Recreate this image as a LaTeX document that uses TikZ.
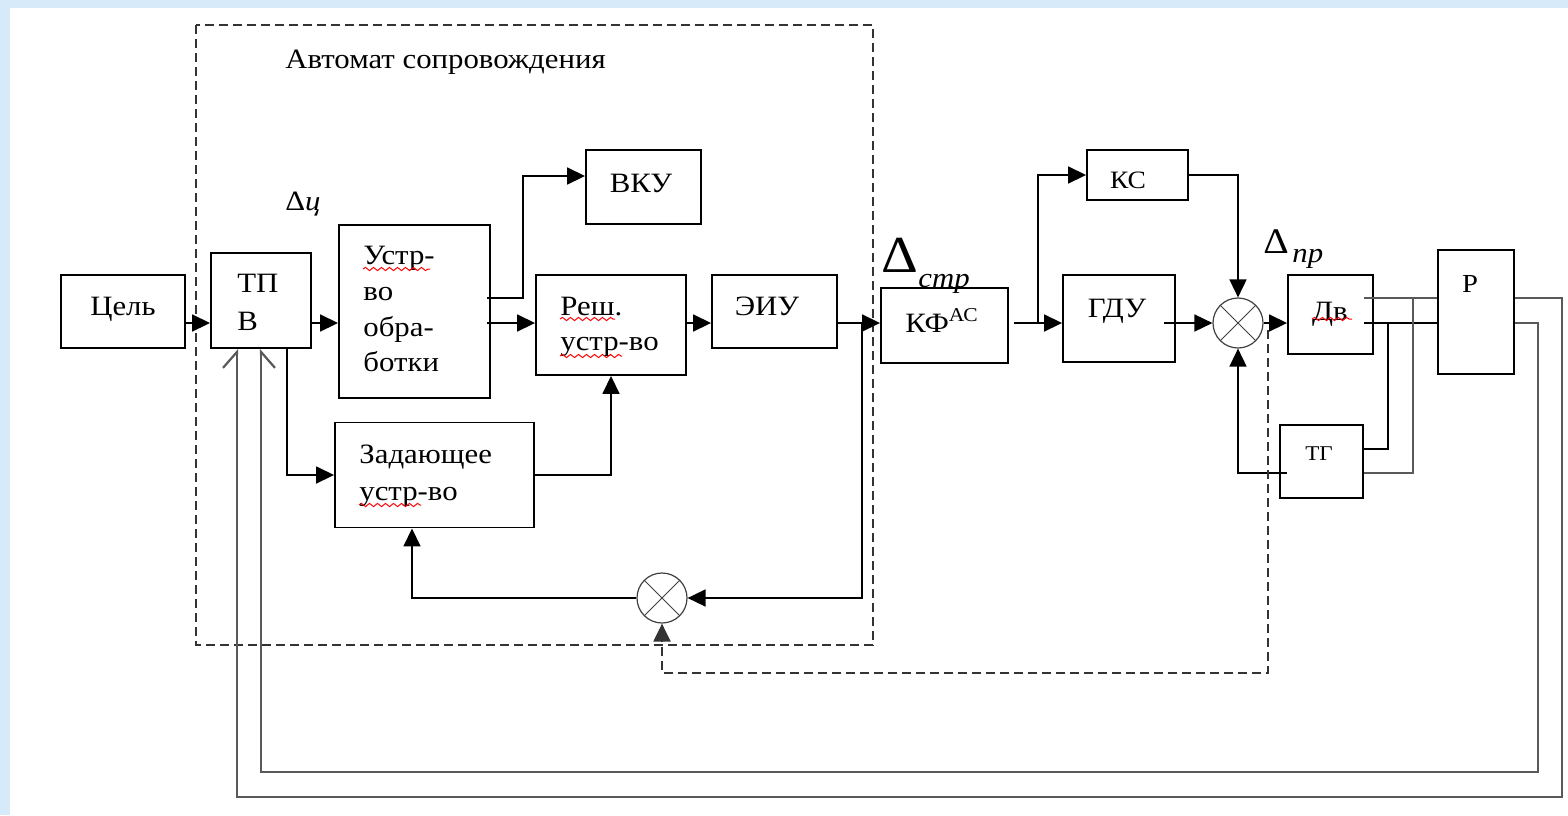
\documentclass[tikz,border=0pt]{standalone}
\usepackage{fontspec}
\setmainfont[FakeStretch=1.1]{Liberation Serif}
\usepackage{xcolor}
\usepackage{tikz}
\usetikzlibrary{arrows.meta, calc, decorations.pathmorphing}
\definecolor{frameblue}{RGB}{214,234,250}

\begin{document}
\begin{tikzpicture}[x=0.5pt, y=-0.5pt,
  blk/.style={draw, line width=0.95pt, inner sep=0pt, fill=white},
  txt/.style={font=\fontsize{14}{16}\selectfont, inner sep=0pt},
  arr/.style={line width=0.85pt, -{Triangle[length=9pt,width=8.5pt]}},
  ln/.style={line width=0.85pt},
  fb/.style={line width=1.1pt, draw=black!65},
  sum/.style={circle, draw=black!75, line width=0.6pt, fill=white, inner sep=0pt, minimum size=25pt,
    path picture={\draw[black!75, line width=0.5pt] (path picture bounding box.north west) -- (path picture bounding box.south east)
      (path picture bounding box.north east) -- (path picture bounding box.south west);}},
  dsh/.style={line width=1.1pt, draw=black!80, dash pattern=on 4.5pt off 2.5pt},
  wavy/.style={red, line width=0.5pt, decorate, decoration={snake, amplitude=0.8pt, segment length=4pt}}
]
\fill[frameblue] (0,0) rectangle (1568,815);
\fill[white] (10,8) rectangle (1568,815);
\useasboundingbox (0,0) rectangle (1568,815);

% tracking automaton frame
\draw[dsh] (196,25) rectangle (873,645);
\node[txt, anchor=base west] (title) at (285,68) {Автомат сопровождения};

% blocks
\node[blk, minimum width=62pt, minimum height=36.5pt] (cel) at (123,311.5) {};
\node[blk, minimum width=50pt, minimum height=47.5pt] (tpv) at (261,300.5) {};
\node[blk, minimum width=75.5pt, minimum height=86.5pt] (obr) at (414.5,311.5) {};
\node[blk, minimum width=57.5pt, minimum height=37pt] (vku) at (643.5,187) {};
\node[blk, minimum width=75pt, minimum height=50pt] (resh) at (611,325) {};
\node[blk, minimum width=62.5pt, minimum height=36.5pt] (eiu) at (774.5,311.5) {};
\node[blk, minimum width=99.5pt, minimum height=52.5pt] (zad) at (434.5,475) {};
\node[blk, minimum width=63.5pt, minimum height=37.5pt] (kf) at (944.5,325.5) {};
\node[blk, minimum width=50.5pt, minimum height=25pt] (ks) at (1137.5,175) {};
\node[blk, minimum width=56pt, minimum height=43.5pt] (gdu) at (1119,318.5) {};
\node[blk, minimum width=42.5pt, minimum height=39.5pt] (dv) at (1330.5,314.5) {};
\node[blk, minimum width=38pt, minimum height=62pt] (r) at (1476,312) {};
\node[blk, minimum width=41.5pt, minimum height=36.5pt] (tg) at (1321.5,461.5) {};
\node[sum] (sum1) at (1238,323) {};
\node[sum] (sum2) at (662,598) {};

% texts
\node[txt, anchor=base west] (tDc) at (285,210) {Δ\textit{ц}};
\node[txt, anchor=base] (tCel) at (123,315) {Цель};
\node[txt, anchor=base west] (tTp) at (237,292) {ТП};
\node[txt, anchor=base west] (tV) at (237,330) {В};
\node[txt, anchor=base west] (tObr1) at (363,264) {Устр-};
\node[txt, anchor=base west] (tObr2) at (363,300) {во};
\node[txt, anchor=base west] (tObr3) at (363,336) {обра-};
\node[txt, anchor=base west] (tObr4) at (363,371) {ботки};
\node[txt, anchor=base] (tVku) at (641,192) {ВКУ};
\node[txt, anchor=base west] (tResh1) at (560,315) {Реш.};
\node[txt, anchor=base west] (tResh2) at (560,350) {устр-во};
\node[txt, anchor=base] (tEiu) at (767,315) {ЭИУ};
\node[txt, anchor=base west] (tZad1) at (359,463) {Задающее};
\node[txt, anchor=base west] (tZad2) at (359,500) {устр-во};
\node[anchor=base west, inner sep=0pt, font=\fontsize{26}{28}\selectfont] (tDs) at (881,272) {Δ};
\node[txt, anchor=base west] (tStr) at (918,287) {\textit{стр}};
\node[txt, anchor=base west] (tKf) at (905,332) {КФ\textsuperscript{АС}};
\node[txt, anchor=base, font=\fontsize{12.5}{14}\selectfont] (tKs) at (1128,188) {КС};
\node[txt, anchor=base] (tGdu) at (1117,317) {ГДУ};
\node[anchor=base west, inner sep=0pt, font=\fontsize{18}{20}\selectfont] (tDp) at (1263,253) {Δ};
\node[txt, anchor=base west] (tPr) at (1292,262) {\textit{пр}};
\node[txt, anchor=base] (tDv) at (1330,320) {Дв};
\node[txt, anchor=base, font=\fontsize{13}{14}\selectfont] (tR) at (1470,292) {Р};
\node[txt, anchor=base, font=\fontsize{10.5}{12}\selectfont] (tTg) at (1319,460) {ТГ};

% spell-check marks
\draw[wavy] (363,269) -- (430,269);
\draw[wavy] (560,319) -- (615,319);
\draw[wavy] (560,356) -- (622,356);
\draw[wavy] (359,505) -- (421,505);
\draw[wavy] (1312,319) -- (1352,319);

% levels
\coordinate (yM) at (0,323);
\coordinate (yU) at (0,298);
\coordinate (yT) at (0,176);
\coordinate (yG1) at (0,449);
\coordinate (yG2) at (0,473);
\coordinate (yD) at (0,673);

% signal path
\draw[arr] (cel.east |- yM) -- (tpv.west |- yM);
\draw[arr] (tpv.east |- yM) -- (obr.west |- yM);
\draw[arr] ($(obr.east |- yM)+(-4,0)$) -- (resh.west |- yM);
\draw[arr] ($(obr.east |- yU)+(-4,0)$) -- ++(36,0) |- (vku.west |- yT);
\draw[arr] (resh.east |- yM) -- (eiu.west |- yM);
\draw[arr] (eiu.east |- yM) -- (kf.west |- yM);
\coordinate (eBr) at (862,323);
\draw[arr] (eBr) |- (sum2.east);
\coordinate (zX) at (412,0);
\draw[arr] (sum2.west) -| (zad.south -| zX);
\draw[arr] (zad.east) -| (resh.south);
\coordinate (tX) at (287,0);
\draw[arr] (tpv.south -| tX) |- (zad.west);

\draw[arr] ($(kf.east |- yM)+(5,0)$) -- (gdu.west |- yM);
\coordinate (kBr) at (1038,323);
\draw[arr] (kBr) |- (ks.west);
\draw[arr] (ks.east) -| (sum1.north);
\draw[arr] ($(gdu.east |- yM)+(-12,0)$) -- (sum1.west);
\draw[arr] (sum1.east) -- (dv.west |- yM);

% motor, tachogenerator, reducer
\coordinate (tA) at (1388,0);
\coordinate (tB) at (1413,0);
\draw[fb] ($(dv.east |- yU)+(-10,0)$) -- (r.west |- yU);
\draw[ln] ($(dv.east |- yM)+(-10,0)$) -- (r.west |- yM);
\draw[ln] (tg.east |- yG1) -| (tA |- yM);
\draw[fb] (tg.east |- yG2) -| (tB |- yU);
\draw[arr] ($(tg.west |- yG2)+(8,0)$) -| (sum1.south);

% feedback to TPV
\coordinate (fIn) at (1538,772);
\coordinate (fOut) at (1562,797);
\coordinate (lX) at (237,0);
\draw[fb, -{Straight Barb[harpoon,swap,length=8pt,width=14pt]}] (r.east |- yM) -| (fIn) -| (tpv.south);
\draw[fb, -{Straight Barb[harpoon,length=8pt,width=14pt]}] (r.east |- yU) -| (fOut) -| (tpv.south -| lX);

% dashed link
\draw[dsh, -{Triangle[length=9pt,width=8.5pt]}] ($(sum1.east)+(4,7)$) |- (sum2 |- yD) -- (sum2.south);
\end{tikzpicture}
\end{document}
